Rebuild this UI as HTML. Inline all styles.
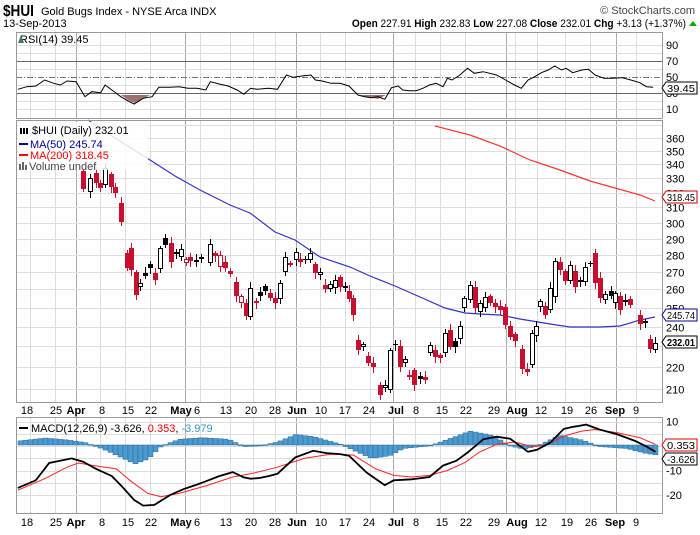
<!DOCTYPE html>
<html><head><meta charset="utf-8"><style>
body{margin:0;background:#fff;width:700px;height:530px;overflow:hidden;font-family:"Liberation Sans",sans-serif}
svg text{font-family:"Liberation Sans",sans-serif}
</style></head><body>
<svg id="s" width="700" height="530" xmlns="http://www.w3.org/2000/svg">
<text x="3" y="16" font-size="16" font-weight="bold" transform="translate(3,0) scale(0.85,1) translate(-3,0)">$HUI</text>
<text x="41" y="15" font-size="11">Gold Bugs Index - NYSE Arca  INDX</text>
<text x="695" y="14" font-size="11" text-anchor="end" fill="#444">© StockCharts.com</text>
<text x="3" y="27" font-size="11">13-Sep-2013</text>
<text x="686" y="27" font-size="11" text-anchor="end" transform="translate(686,0) scale(0.92,1) translate(-686,0)"><tspan font-weight="bold">Open</tspan> 227.91 <tspan font-weight="bold">High</tspan> 232.83 <tspan font-weight="bold">Low</tspan> 227.08 <tspan font-weight="bold">Close</tspan> 232.01 <tspan font-weight="bold">Chg</tspan> +3.13 (+1.37%)</text>
<polygon points="689,26 697,26 693,21" fill="#0a0"/>
<g id="g"></g>
</svg>
<script>
var g=document.getElementById('g'),h='';
function L(x1,y1,x2,y2,c,w,d){h+='<line x1="'+x1+'" y1="'+y1+'" x2="'+x2+'" y2="'+y2+'" stroke="'+c+'" stroke-width="'+(w||1)+'"'+(d?' stroke-dasharray="'+d+'"':'')+'/>';}
function T(x,y,t,o){h+='<text x="'+x+'" y="'+y+'" '+(o||'font-size="11"')+'>'+t+'</text>';}
var X0=16,X1=662;
var wk=[30,55,76,100,125,150,185,200,230,253,275,296,320,345,370,393,415,440,465,506,515,537,565,590,616,636];
var dark=[76,185,296,393,506,616];
function vgrid(y1,y2){wk.forEach(function(x){L(x+.5,y1,x+.5,y2,dark.indexOf(x)>=0?'#aaa':'#ddd');});}
var R0=32,R1=118;
vgrid(R0,R1);
function ry(v){return 117-0.8*v;}
[20,40,60,80,90,10].forEach(function(v){L(X0,ry(v)+.5,X1,ry(v)+.5,'#ddd');});
L(X0,ry(70)+.5,X1,ry(70)+.5,'#666');L(X0,ry(30)+.5,X1,ry(30)+.5,'#666');
L(X0,ry(50)+.5,X1,ry(50)+.5,'#777',1,'6,2,1,2');
[90,70,50,30,10].forEach(function(v){T(666,ry(v)+4,v);});
var rsi=[[40,268],[60,260],[80,258],[100,240],[120,250],[135,255],[150,243],[170,245],[190,290],[205,275],[225,278],[235,255],[250,270],[270,290],[285,302],[300,312],[320,295],[340,290],[355,262],[380,262],[400,260],[420,265],[440,265],[460,270],[470,245],[490,252],[510,258],[530,270],[545,283],[560,265],[575,268],[600,265],[620,268],[640,225],[655,232],[675,228],[695,225],[705,240],[720,243],[740,250],[760,250],[780,258],[800,285],[815,290],[830,293],[845,290],[860,298],[875,263],[890,258],[900,270],[915,272],[930,272],[945,265],[960,255],[975,250],[990,260],[1000,235],[1010,240],[1025,228],[1045,205],[1060,220],[1080,215],[1110,225],[1130,240],[1150,255],[1165,265],[1180,240],[1195,230],[1210,218],[1225,210],[1240,198],[1255,210],[1265,205],[1280,218],[1300,210],[1315,208],[1330,225],[1350,235],[1370,235],[1390,233],[1410,240],[1430,248],[1445,260],[1460,262]].map(function(p){return [p[0]/2.235,p[1]/3];});
h+='<polygon points="121,95 128,100 135,103 143,99 150,95" fill="#a07070"/>';
h+='<polygon points="360,95 368,97 378,99 386,95" fill="#a07070"/>';
h+='<polyline fill="none" stroke="#000" stroke-width="1" points="'+rsi.map(function(p){return p[0].toFixed(1)+','+p[1].toFixed(1)}).join(' ')+'"/>';
h+='<rect x="'+X0+'.5" y="'+R0+'.5" width="'+(X1-X0)+'" height="'+(R1-R0)+'" fill="none" stroke="#999"/>';
T(20,43,'RSI(14) 39.45');h+='<path d="M18,43 l3,-8 l3,8z" fill="#476"/>';
function tag(y,t,c,b){h+='<path d="M662,'+y+' l4,-6 h31 v12 h-31z" fill="#fff" stroke="'+c+'"/>';T(667,y+4,t,'font-size="10.5" textLength="28" lengthAdjust="spacingAndGlyphs" '+(b?'font-weight="bold"':''));}
tag(88,'39.45','#000');
var M0=120,M1=402;
vgrid(M0,M1);
function py(p){return 2879-465.7*Math.log(p);}
for(var p=210;p<=370;p+=10){var y=Math.round(py(p))+.5;if(y>M0&&y<M1){L(X0,y,X1,y,'#ddd');}if(p<=360&&p!=230)T(666,y+4,p);}
var ma50=[[88,120],[115,138],[150,160],[175,176],[200,190],[230,205],[250,213],[275,232],[295,240],[320,257],[350,267],[370,276],[395,286],[420,297],[445,308],[465,313],[480,314],[500,315],[520,319],[550,324],[570,327],[600,327],[620,326],[640,320],[655,317]];
var ma200=[[435,126],[470,135],[500,146],[530,160],[560,170],[590,181],[615,188],[640,195],[655,201]];
h+='<polyline fill="none" stroke="#33c" stroke-width="1.2" points="'+ma50.join(' ')+'"/>';
h+='<polyline fill="none" stroke="#f33" stroke-width="1.2" points="'+ma200.join(' ')+'"/>';
var C=[[83,171,189,'r'],[90,178,192,'h'],[96,173,183,'r'],[100,183,188,'r'],[105,168,185,'h'],[111,174,187,'r'],[115,187,193,'r'],[121,203,222,'r'],[127,253,268,'r'],[131,248,270,'r'],[136,272,295,'r'],[140,283,287,'h'],[145,273,276,'b'],[150,264,268,'b'],[155,273,280,'r'],[160,248,269,'h'],[165,238,245,'b'],[171,243,262,'r'],[176,252,254,'b'],[181,249,257,'h'],[186,259,263,'rh'],[190,257,261,'r'],[196,260,262,'b'],[201,257,259,'b'],[210,244,263,'h'],[215,253,256,'r'],[220,255,267,'rh'],[225,262,268,'r'],[230,271,274,'r'],[236,282,296,'r'],[241,296,303,'rh'],[246,303,316,'r'],[250,288,317,'h'],[256,301,303,'rh'],[260,292,296,'b'],[265,286,291,'b'],[270,293,298,'r'],[275,298,303,'r'],[280,283,299,'h'],[285,257,272,'h'],[290,263,264,'rh'],[296,252,260,'h'],[300,259,262,'r'],[305,259,260,'b'],[310,253,260,'h'],[315,264,273,'r'],[320,272,275,'h'],[325,285,289,'r'],[330,284,289,'h'],[335,280,288,'h'],[340,277,287,'r'],[345,286,288,'h'],[349,291,299,'r'],[353,298,315,'r'],[358,340,350,'r'],[363,344,347,'h'],[368,356,363,'r'],[373,363,367,'r'],[380,385,395,'r'],[385,385,388,'h'],[390,350,390,'h'],[395,344,345,'b'],[400,346,367,'r'],[405,359,363,'h'],[409,375,377,'rh'],[414,370,385,'r'],[420,376,379,'b'],[425,377,380,'r'],[430,345,353,'h'],[435,350,357,'r'],[440,355,358,'r'],[445,333,353,'h'],[450,330,347,'r'],[455,341,347,'b'],[460,326,339,'h'],[464,298,308,'h'],[470,285,300,'h'],[475,287,308,'r'],[480,303,312,'h'],[485,297,308,'h'],[490,296,303,'r'],[495,303,307,'r'],[500,306,310,'r'],[505,307,325,'r'],[510,326,337,'r'],[515,334,341,'r'],[522,349,369,'r'],[527,369,372,'r'],[532,333,365,'h'],[536,326,336,'h'],[540,301,307,'h'],[545,306,315,'r'],[550,288,310,'h'],[555,261,297,'h'],[560,262,270,'r'],[565,271,281,'r'],[570,265,281,'h'],[575,271,287,'r'],[580,280,282,'b'],[585,267,282,'h'],[590,263,264,'b'],[595,253,283,'r'],[600,278,298,'r'],[605,294,300,'h'],[611,291,296,'b'],[615,293,303,'h'],[620,296,310,'r'],[625,300,302,'b'],[630,299,305,'r'],[640,315,324,'r'],[645,321,323,'h'],[650,339,349,'r'],[655,343,350,'h']];
C.forEach(function(c,i){var x=c[0],t=c[1],b=c[2],k=c[3];var col=(k[0]=='r')?'#c8102e':'#000';var e=2+(i*7)%5;
L(x+.5,t-e,x+.5,b+3+(i*3)%4,col);
if(k=='r'||k=='b')h+='<rect x="'+(x-2)+'" y="'+t+'" width="5" height="'+Math.max(1,b-t)+'" fill="'+col+'"/>';
else h+='<rect x="'+(x-1.5)+'" y="'+(t+.5)+'" width="4" height="'+Math.max(1,b-t-1)+'" fill="#fff" stroke="'+col+'"/>';});
h+='<rect x="'+X0+'.5" y="'+M0+'.5" width="'+(X1-X0)+'" height="'+(M1-M0)+'" fill="none" stroke="#999"/>';
h+='<rect x="18" y="122" width="130" height="48" fill="#fff" fill-opacity="0.85"/>';
T(32,134,'$HUI (Daily) 232.01','font-size="11"');h+='<path d="M20,134 v-6 h2 v6z M23,134 v-6 h2 v6z M26,134 v-6 h2 v6z" fill="#000"/>';
L(19,144,28,144,'#009',2);T(30,148,'MA(50) 245.74','font-size="11" fill="#009"');
L(19,155,28,155,'#f00',2);T(30,159,'MA(200) 318.45','font-size="11" fill="#f00"');
h+='<path d="M19,170 v-6 h2 v6z M22,170 v-8 h2 v8z M25,170 v-5 h2 v5z" fill="#666"/>';T(29,170,'Volume undef','font-size="11" fill="#444"');
tag(197,'318.45','#c00');tag(315,'245.74','#009');tag(342,'232.01','#000',1);
var D=[[27,'18'],[56,'25'],[76,'Apr',1],[102,'8'],[128,'15'],[151,'22'],[181,'May',1],[197,'6'],[226,'13'],[251,'20'],[275,'28'],[297,'Jun',1],[321,'10'],[345,'17'],[369,'24'],[396,'Jul',1],[416,'8'],[442,'15'],[466,'22'],[494,'29'],[517,'Aug',1],[541,'12'],[567,'19'],[591,'26'],[615,'Sep',1],[636,'9']];
function dates(y){D.forEach(function(d){T(d[0],y,d[1],'font-size="11" text-anchor="middle"'+(d[2]?' font-weight="bold" font-size="12"':''));});}
dates(414);dates(526);
var A0=417,A1=513;
vgrid(A0,A1);
function my(v){return 446-2.45*v;}
[10,5,0,-5,-10,-15,-20].forEach(function(v){var y=Math.round(my(v))+.5;L(X0,y,X1,y,'#ddd');});
[[10,'10'],[-10,'-10'],[-20,'-20']].forEach(function(a){T(666,my(a[0])+4,a[1]);});
var hk=[[40,125],[100,116],[150,122],[190,130],[230,150],[270,175],[300,195],[330,180],[360,140],[400,120],[450,115],[510,120],[545,142],[580,140],[620,128],[660,105],[700,112],[760,135],[800,160],[830,178],[870,170],[900,148],[960,140],[1000,120],[1050,95],[1100,108],[1140,140],[1170,150],[1200,140],[1250,108],[1300,122],[1340,142],[1400,148],[1440,162],[1470,168]];
function hv(x){var xz=x*2.235;for(var i=0;i<hk.length-1;i++){if(xz>=hk[i][0]&&xz<=hk[i+1][0]){var f=(xz-hk[i][0])/(hk[i+1][0]-hk[i][0]);return 400+(hk[i][1]+f*(hk[i+1][1]-hk[i][1]))/3.05;}}return 445;}
for(var x=18;x<658;x+=5){var y=hv(x+2);var t=Math.min(y,445),b=Math.max(y,445);h+='<rect x="'+x+'" y="'+t.toFixed(1)+'" width="5" height="'+Math.max(.8,b-t).toFixed(1)+'" fill="#4b9ad0" stroke="#2a6a9a" stroke-width=".5"/>';}
function cv(a){return a.map(function(p){return (p[0]/2.235).toFixed(1)+','+(400+p[1]/3.05).toFixed(1);}).join(' ');}
var red=[[40,275],[100,240],[150,205],[175,192],[210,200],[260,210],[290,245],[330,285],[360,295],[400,285],[460,262],[520,235],[560,225],[620,205],[680,178],[740,165],[790,168],[840,210],[880,230],[920,235],[960,230],[1000,215],[1040,190],[1070,160],[1110,135],[1150,128],[1190,142],[1220,138],[1260,110],[1300,95],[1330,90],[1380,100],[1430,115],[1465,135]];
var blk=[[40,268],[80,245],[110,192],[160,178],[185,188],[215,210],[250,232],[270,260],[300,305],[320,322],[345,320],[380,290],[410,272],[440,258],[460,248],[490,232],[520,220],[545,236],[560,240],[580,238],[600,232],[620,225],[660,175],[700,155],[730,162],[760,165],[780,170],[820,222],[860,260],[880,245],[920,242],[960,235],[990,200],[1020,185],[1045,160],[1080,120],[1110,112],[1140,118],[1180,158],[1200,152],[1230,130],[1260,88],[1280,82],[1290,80],[1310,75],[1340,90],[1380,105],[1420,125],[1445,142],[1465,158]];
h+='<polyline fill="none" stroke="#f22" stroke-width="1" points="'+cv(red)+'"/>';
h+='<polyline fill="none" stroke="#000" stroke-width="1.8" points="'+cv(blk)+'"/>';
h+='<rect x="'+X0+'.5" y="'+A0+'.5" width="'+(X1-X0)+'" height="'+(A1-A0)+'" fill="none" stroke="#999"/>';
L(19,428,28,428,'#000',2);
h+='<text x="31" y="432" font-size="11">MACD(12,26,9) -3.626, <tspan fill="#e00">0.353</tspan>, <tspan fill="#39c">-3.979</tspan></text>';
tag(445,'0.353','#e00');tag(459,'-3.626','#000');
g.innerHTML=h;
</script>
</body></html>
